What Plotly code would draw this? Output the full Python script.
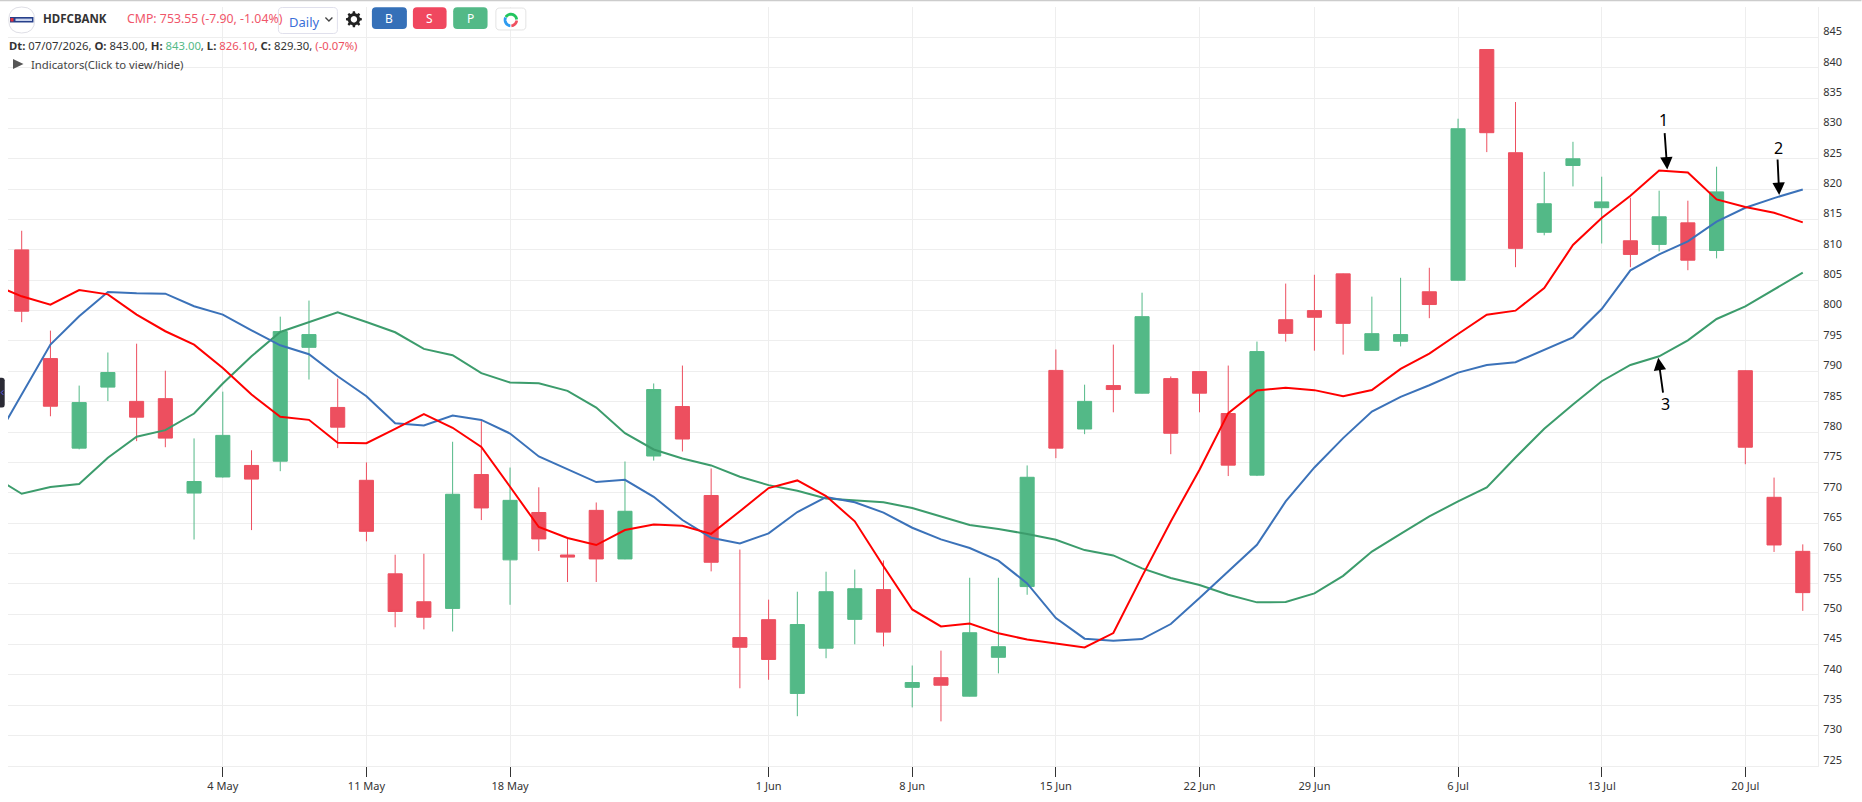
import math
import plotly.graph_objects as go

# ---------- data ----------
line_dates = ["21 Apr"]
dates = ["22 Apr","23 Apr","24 Apr","27 Apr","28 Apr","29 Apr","30 Apr",
         "4 May","5 May","6 May","7 May","8 May","11 May","12 May","13 May","14 May","15 May",
         "18 May","19 May","20 May","21 May","22 May","25 May","26 May","27 May","29 May",
         "1 Jun","2 Jun","3 Jun","4 Jun","5 Jun","8 Jun","9 Jun","10 Jun","11 Jun","12 Jun",
         "15 Jun","16 Jun","17 Jun","18 Jun","19 Jun","22 Jun","23 Jun","24 Jun","25 Jun",
         "29 Jun","30 Jun","1 Jul","2 Jul","3 Jul","6 Jul","7 Jul","8 Jul","9 Jul","10 Jul",
         "13 Jul","14 Jul","15 Jul","16 Jul","17 Jul","20 Jul","21 Jul","22 Jul"]
all_dates = line_dates + dates

opens = [810.0,792.1,777.35,787.4,785.05,785.5,769.95,772.6,774.5,775.2,793.95,784.05,772.05,756.65,752.05,750.95,
         773.0,758.95,766.75,759.75,767.1,759.1,776.05,784.2,769.55,746.15,749.1,736.95,744.4,749.15,754.05,737.95,
         739.55,736.5,742.9,754.55,790.15,780.5,787.65,786.4,788.8,789.95,783.05,772.9,798.5,800.0,806.05,793.45,
         794.95,803.1,805.0,843.0,826.0,812.9,823.9,816.95,811.5,810.9,814.45,809.9,790.1,769.25,760.35]
highs = [813.15,796.7,787.65,793.1,794.55,790.1,778.95,786.65,777.0,799.0,801.65,788.8,775.0,759.8,759.95,778.4,
         781.8,774.15,770.9,762.4,768.4,775.15,788.0,790.95,774.0,760.65,752.4,753.7,757.0,757.35,758.85,741.55,
         744.0,756.0,756.0,774.5,793.6,787.8,794.4,802.95,789.15,790.0,790.95,794.9,804.45,805.9,806.1,802.3,
         805.4,807.05,831.6,843.0,834.35,822.85,827.8,822.05,818.6,819.75,818.1,823.7,790.15,772.5,761.5]
lows = [798.1,782.6,777.15,785.1,778.5,777.5,762.3,772.5,763.85,773.55,788.65,777.35,762.0,747.85,747.5,747.15,
        765.5,751.55,760.4,755.3,755.3,759.05,775.3,776.8,757.05,737.8,739.2,733.2,742.75,745.05,744.7,734.65,
        732.35,736.45,740.25,753.2,775.7,779.65,783.25,786.35,776.35,783.25,772.75,772.75,794.9,793.4,792.75,793.4,
        794.1,798.75,804.95,826.1,807.15,812.4,820.45,811.05,807.15,809.75,806.65,808.6,774.7,760.25,750.55]
closes = [799.9,784.25,784.85,789.8,782.45,779.0,771.85,779.45,772.25,796.55,796.05,780.8,763.65,750.45,749.5,769.75,
          767.5,768.75,762.4,759.4,759.1,766.95,787.0,778.85,758.55,744.55,742.55,748.3,753.7,754.2,747.05,738.75,
          738.3,746.95,744.65,772.55,777.35,785.05,787.0,799.0,779.8,786.4,774.55,793.25,796.25,798.9,797.9,796.2,
          796.05,801.0,829.95,829.3,810.25,817.6,825.0,817.9,809.25,815.45,808.3,819.55,777.5,761.4,753.55]

line1_red = [804.3,802.35,800.98,803.39,802.68,799.34,796.6,794.4,790.56,786.18,782.5,782.01,778.23,778.17,780.53,782.94,
             780.7,777.55,770.99,764.36,762.55,761.39,763.86,764.79,764.57,763.23,766.95,770.77,772.03,769.45,765.3,757.9,
             750.78,747.98,748.47,746.85,745.83,745.12,744.52,746.9,756.23,765.28,773.79,783.11,786.84,787.28,786.9,785.9,
             786.92,790.4,792.92,796.15,799.33,799.99,803.73,810.8,815.24,818.91,823.08,822.75,818.31,817.05,816.12,814.53]
line2_blue = [778.0,786.2,794.4,799.06,803.06,802.84,802.79,800.71,799.34,796.76,794.29,792.81,789.19,785.9,781.46,781.08,
              782.72,782.0,779.76,775.98,773.84,771.76,772.14,769.34,765.51,762.6,761.64,763.31,766.82,769.3,768.44,766.73,
              764.24,762.32,760.9,758.81,755.08,749.37,745.97,745.64,745.91,748.38,752.66,757.05,761.44,768.57,774.17,779.0,
              783.38,785.8,787.71,789.79,791.05,791.49,793.58,795.6,800.26,806.63,809.26,811.4,814.64,816.94,818.53,819.95]
line3_green = [772.75,769.84,770.94,771.43,775.76,779.22,780.31,783.05,787.99,792.48,796.48,798.07,799.72,798.13,796.43,793.69,
               792.65,789.7,788.15,788.04,786.78,784.04,779.82,777.13,775.65,774.5,772.63,771.26,770.33,769.07,768.8,768.44,
               767.5,766.1,764.68,764.02,763.22,762.26,760.56,759.68,757.54,755.95,754.8,753.21,751.95,752.0,753.43,756.32,
               760.32,763.23,766.11,768.58,770.88,775.81,780.53,784.53,788.37,791.05,792.48,795.11,798.62,800.7,803.45,806.25]

tick_dates = ["4 May","11 May","18 May","1 Jun","8 Jun","15 Jun","22 Jun","29 Jun","6 Jul","13 Jul","20 Jul"]
price_ticks = list(range(725, 850, 5))

RED = "#ED4F5F"
GREEN = "#53B987"
GRID = "#EEEEEE"
FONT = "Noto Sans"

# ---------- layout geometry (pixels of the page) ----------
W, H = 1862, 802
L, R, T, B = 8, 1818.5, 7, 766.3
def px(x): return (x - L) / (R - L)
def py(y): return (B - y) / (B - T)

def path_pts(pts, close=False):
    s = "M " + " L ".join(f"{px(x):.5f},{py(y):.5f}" for x, y in pts)
    return s + (" Z" if close else "")

def rrect(x0, y0, x1, y1, r):
    seq = [("M", x0 + r, y0), ("L", x1 - r, y0), ("Q", x1, y0, x1, y0 + r), ("L", x1, y1 - r),
           ("Q", x1, y1, x1 - r, y1), ("L", x0 + r, y1), ("Q", x0, y1, x0, y1 - r), ("L", x0, y0 + r),
           ("Q", x0, y0, x0 + r, y0)]
    out = []
    for c in seq:
        vals = c[1:]
        coords = " ".join(f"{px(vals[i]):.5f},{py(vals[i+1]):.5f}" for i in range(0, len(vals), 2))
        out.append(f"{c[0]} {coords}")
    return " ".join(out) + " Z"

def shape_path(path, fill=None, line=None, lw=1):
    return dict(type="path", xref="paper", yref="paper", path=path, layer="above",
                fillcolor=fill or "rgba(0,0,0,0)", line=dict(color=line or "rgba(0,0,0,0)", width=lw if line else 0))

def arc(cx, cy, r, a0, a1, n=14):
    return [(cx + r * math.cos(math.radians(a0 + (a1 - a0) * k / n)),
             cy + r * math.sin(math.radians(a0 + (a1 - a0) * k / n))) for k in range(n + 1)]

def gear(cx, cy, ro, ri, teeth=8):
    pts = []
    step = 360 / teeth
    for k in range(teeth):
        a = k * step
        for da, r in ((-0.30, ri), (-0.17, ro), (0.17, ro), (0.30, ri)):
            t = math.radians(a + da * step)
            pts.append((cx + r * math.cos(t), cy + r * math.sin(t)))
    return pts

shapes = [
    shape_path(path_pts([(0, 0.6), (W, 0.6)]), line="#CCCCCC", lw=1.5),
    # logo
    shape_path(rrect(8.7, 7, 34.7, 33, 13), fill="#FFFFFF", line="#DFDFE6", lw=1),
    shape_path(path_pts([(10, 17), (33.5, 17), (33.5, 22.5), (10, 22.5)], True), fill="#27408B"),
    shape_path(path_pts([(10.5, 18), (13.5, 18), (13.5, 21.5), (10.5, 21.5)], True), fill="#E0313F"),
    shape_path(path_pts([(15.5, 18.6), (32, 18.6), (32, 21), (15.5, 21)], True), fill="#C9D3EC"),
    # dropdown
    shape_path(rrect(278.5, 7.5, 337.5, 33.5, 4), fill="#FFFFFF", line="#E0E0EC", lw=1),
    shape_path(path_pts([(325.5, 17.5), (329, 21), (332.5, 17.5)]), line="#444444", lw=1.3),
    # gear
    shape_path(path_pts(gear(354, 19.3, 8, 6.2), True), fill="#222222"),
    shape_path(path_pts(arc(354, 19.3, 3.2, 0, 360, 24), True), fill="#FFFFFF"),
    # buttons
    shape_path(rrect(372, 7.3, 407, 29, 4), fill="#3570B8"),
    shape_path(rrect(413, 7.3, 446.7, 29, 4), fill="#F0475F"),
    shape_path(rrect(453.3, 7.3, 487.7, 29, 4), fill=GREEN),
    shape_path(rrect(496, 8, 526, 30, 4), fill="#FFFFFF", line="#E4E4E4", lw=1),
    shape_path(path_pts(arc(511, 20, 5.8, -150, -5)), line="#22C55E", lw=2.8),
    shape_path(path_pts(arc(511, 20, 5.8, 5, 85)), line="#EF4F5F", lw=2.8),
    shape_path(path_pts(arc(511, 20, 5.8, 95, 205)), line="#2E9BF0", lw=2.8),
    # indicators triangle
    shape_path(path_pts([(13, 59), (23.5, 64), (13, 69)], True), fill="#555555"),
    # side handle
    shape_path(rrect(-4, 378, 4.7, 407.7, 2.5), fill="#2A2A35"),
    shape_path(path_pts([(3.2, 390.5), (1.2, 392.7), (3.2, 395)]), line="#5A5AFF", lw=1),
]

def text(x, y, s, size=12, color="#333333", anchor="left", bold=False, family=FONT):
    return dict(xref="paper", yref="paper", x=px(x - 2 if anchor == "left" else x), y=py(y),
                text=f"<b>{s}</b>" if bold else s,
                showarrow=False, xanchor=anchor, yanchor="middle", align="left",
                font=dict(family=family, size=size, color=color))

def arrow(x0, y0, x1, y1):
    return dict(xref="paper", yref="paper", x=px(x1), y=py(y1), axref="pixel", ayref="pixel",
                ax=x0 - x1, ay=y0 - y1, text="", showarrow=True, arrowhead=2, arrowsize=1.3,
                arrowwidth=1.9, arrowcolor="#000000", standoff=0)

dt_line = ("<b>Dt:</b> 07/07/2026, <b>O:</b> 843.00, <b>H:</b> "
           f"<span style='color:{GREEN}'>843.00</span>, <b>L:</b> "
           f"<span style='color:{RED}'>826.10</span>, <b>C:</b> 829.30, "
           f"<span style='color:{RED}'>(-0.07%)</span>")

annotations = [
    text(43.3, 18.3, "HDFCBANK", size=11.5, bold=True),
    text(126.7, 19, "CMP: 753.55 (-7.90, -1.04%)", size=12.3, color="#F0566A"),
    text(289.3, 22, "Daily", size=13, color="#3A6FD8"),
    text(389.5, 18.5, "B", size=12, color="#FFFFFF", anchor="center"),
    text(430, 18.5, "S", size=12, color="#FFFFFF", anchor="center"),
    text(470.5, 18.5, "P", size=12, color="#FFFFFF", anchor="center"),
    text(9.3, 45.7, dt_line, size=11.3),
    text(31, 64.3, "Indicators(Click to view/hide)", size=11.3, color="#444444"),
    text(1664, 120, "1", size=16, color="#000000", anchor="center"),
    text(1778.7, 148, "2", size=16, color="#000000", anchor="center"),
    text(1665.7, 404.3, "3", size=16, color="#000000", anchor="center"),
    arrow(1665, 131.7, 1667.7, 169.5),
    arrow(1778, 158, 1779.7, 195),
    arrow(1663.7, 394.3, 1658.7, 358),
]

# ---------- figure ----------
fig = go.Figure()
fig.add_trace(go.Candlestick(
    x=dates, open=opens, high=highs, low=lows, close=closes,
    increasing=dict(line=dict(color=GREEN, width=1), fillcolor=GREEN),
    decreasing=dict(line=dict(color=RED, width=1), fillcolor=RED),
    whiskerwidth=0, showlegend=False, name="HDFCBANK"))
fig.add_trace(go.Scatter(x=all_dates, y=line3_green, mode="lines", line=dict(color="#3C9C6C", width=2), showlegend=False, name="3"))
fig.add_trace(go.Scatter(x=all_dates, y=line2_blue, mode="lines", line=dict(color="#3B72B9", width=2), showlegend=False, name="2"))
fig.add_trace(go.Scatter(x=all_dates, y=line1_red, mode="lines", line=dict(color="#FF0000", width=2), showlegend=False, name="1"))

fig.update_layout(
    width=W, height=H, margin=dict(l=L, r=W - R, t=T, b=H - B, autoexpand=False),
    paper_bgcolor="#FFFFFF", plot_bgcolor="#FFFFFF", showlegend=False,
    font=dict(family=FONT, size=11, color="#333333"),
    shapes=shapes, annotations=annotations,
    xaxis=dict(type="category", categoryorder="array", categoryarray=all_dates,
               range=[0.523, 63.53], tickmode="array", tickvals=tick_dates, ticktext=tick_dates,
               showgrid=True, gridcolor=GRID, gridwidth=1, zeroline=False,
               ticks="outside", ticklen=10, tickwidth=1, tickcolor="#333333",
               showline=True, linecolor=GRID, rangeslider=dict(visible=False),
               tickfont=dict(family=FONT, size=11, color="#333333")),
    yaxis=dict(side="right", range=[725, 850], tickmode="array", tickvals=price_ticks,
               showgrid=True, gridcolor=GRID, gridwidth=1, zeroline=False,
               showline=True, linecolor=GRID, ticks="",
               ticklabelshift=-6, ticklabelstandoff=2,
               tickfont=dict(family=FONT, size=11, color="#333333")),
)

fig.write_html("out.html", config={"displayModeBar": False},
               post_script="document.body.style.margin='0';document.body.style.overflow='hidden';")
